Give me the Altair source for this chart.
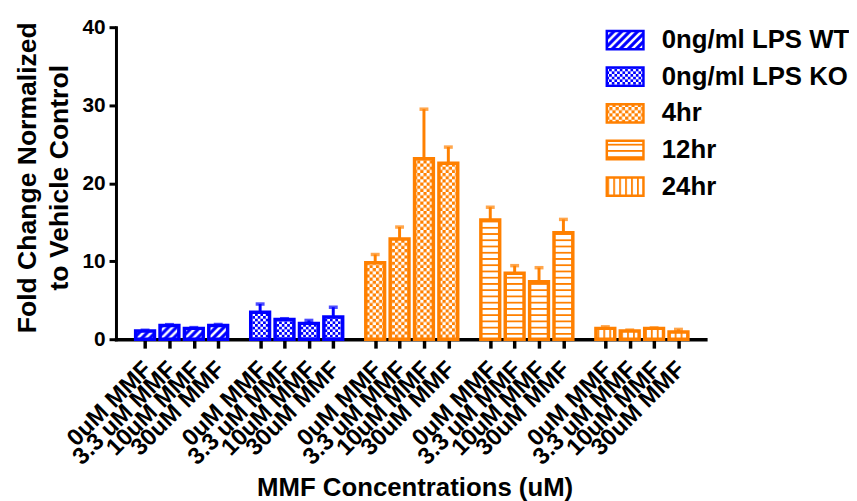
import jinja2
import pandas as pd
import altair as alt

# ---------------- data ----------------
groups = ["0ng/ml LPS WT", "0ng/ml LPS KO", "4hr", "12hr", "24hr"]
concentrations = ["0uM MMF", "3.3 uM MMF", "10uM MMF", "30uM MMF"]

wt_mean = [1.05, 1.77, 1.39, 1.77]
wt_err = [0.10, 0.10, 0.10, 0.12]
ko_mean = [3.46, 2.53, 2.03, 2.86]
ko_err = [1.05, 0.10, 0.38, 1.24]
h4_mean = [9.81, 12.86, 23.14, 22.55]
h4_err = [1.05, 1.52, 6.35, 2.08]
h12_mean = [15.27, 8.45, 7.36, 13.66]
h12_err = [1.65, 0.98, 1.81, 1.70]
h24_mean = [1.39, 1.05, 1.39, 0.92]
h24_err = [0.20, 0.12, 0.06, 0.34]

y_ticks = [0, 10, 20, 30, 40]

# ---------------- styles ----------------
BLUE = "#0000ff"
ORANGE = "#ff8000"
group_colors = [BLUE, BLUE, ORANGE, ORANGE, ORANGE]
pattern_ids = ["pWT", "pKO", "p4", "p12", "p24"]
FONT = "Liberation Sans"

SLOT = 100          # distance between bars inside a group
GROUP_STEP = 472    # distance between first bars of neighbouring groups

means = [wt_mean, ko_mean, h4_mean, h12_mean, h24_mean]
errs = [wt_err, ko_err, h4_err, h12_err, h24_err]

rows = []
for gi, g in enumerate(groups):
    for ci, c in enumerate(concentrations):
        m = means[gi][ci]
        e = errs[gi][ci]
        rows.append({"group": g, "conc": c, "mean": m, "err": e,
                     "top": m + e, "pos": gi * GROUP_STEP + ci * SLOT})
df = pd.DataFrame(rows)
positions = [int(p) for p in df["pos"]]

conc_js = "[" + ",".join("'" + c + "'" for c in concentrations) + "]"
label_expr = (f"{conc_js}[round((datum.value - floor(datum.value / {GROUP_STEP}) * {GROUP_STEP}) / {SLOT})]")

legend = alt.Legend(
    title=None, orient="none", legendX=494, legendY=-7,
    symbolType="M-1,-0.5H1V0.5H-1Z", symbolSize=1369, symbolStrokeWidth=2.5,
    labelFontSize=26, labelFont=FONT, labelFontWeight="bold", labelColor="black",
    labelOffset=17, rowPadding=2, labelLimit=400,
)

x_scale = alt.Scale(domain=[-99, 2278], nice=False, zero=False)
x_axis = alt.Axis(
    values=positions, labelExpr=label_expr, labelAngle=315,
    labelAlign="right", labelBaseline="top", labelOffset=-6, labelPadding=9,
    labelFontSize=24, labelOverlap=False, labelFlush=False, labelBound=False,
    tickSize=9, tickWidth=3.5, domainWidth=3.5, domainCap="square", grid=False,
    title="MMF Concentrations (uM)", titleFontSize=26,
    titleX=301.5, titleY=157.7, titleBaseline="alphabetic", titleAlign="center",
)
y_scale = alt.Scale(domain=[0, 40], nice=False)
y_axis = alt.Axis(
    values=y_ticks, labelFontSize=21, labelPadding=4,
    tickSize=7, tickWidth=3, domainWidth=3, domainCap="square", grid=False,
    title=["Fold Change Normalized", "to Vehicle Control"], titleFontSize=26.8,
    titleLineHeight=32.5, titleX=-102, titleY=151.5, titleAngle=270,
    titleAlign="center", titleBaseline="top",
)

base = alt.Chart(df)

bars = base.mark_bar(size=19, strokeWidth=3.5).encode(
    x=alt.X("pos:Q", scale=x_scale, axis=x_axis),
    y=alt.Y("mean:Q", scale=y_scale, axis=y_axis),
    fill=alt.Fill("group:N", scale=alt.Scale(domain=groups, range=[f"url(#{p})" for p in pattern_ids]), legend=legend),
    stroke=alt.Stroke("group:N", scale=alt.Scale(domain=groups, range=group_colors), legend=legend),
)

err_line = base.mark_rule(strokeWidth=3).encode(
    x=alt.X("pos:Q", scale=x_scale, axis=x_axis),
    y=alt.Y("mean:Q", scale=y_scale, axis=y_axis),
    y2="top:Q",
    color=alt.Color("group:N", scale=alt.Scale(domain=groups, range=group_colors), legend=None),
)

caps = base.mark_tick(orient="horizontal", size=9, thickness=3.5).encode(
    x=alt.X("pos:Q", scale=x_scale, axis=x_axis),
    y=alt.Y("top:Q", scale=y_scale, axis=y_axis),
    color=alt.Color("group:N", scale=alt.Scale(domain=groups, range=group_colors), legend=None),
)

chart = alt.layer(bars, err_line, caps).properties(
    width=595, height=315,
    autosize=alt.AutoSizeParams(type="none"),
    padding={"left": 109, "top": 17, "right": 145, "bottom": 165},
).configure(font=FONT).configure_view(stroke=None).configure_axis(
    labelFont=FONT, titleFont=FONT, labelFontWeight="bold", titleFontWeight="bold",
    labelColor="black", titleColor="black", domainColor="black", tickColor="black",
    labelOverlap=False,
)

# ---------------- fill patterns (SVG defs on the page) ----------------
defs = f"""
<svg width="0" height="0" style="position:absolute;left:0;top:0">
 <defs>
  <pattern id="pWT" patternUnits="userSpaceOnUse" width="8" height="8">
   <rect width="8" height="8" fill="{BLUE}"/>
   <path d="M-2,2 L2,-2 M0,8 L8,0 M6,10 L10,6" stroke="#ffffff" stroke-width="2.5"/>
  </pattern>
  <pattern id="pKO" patternUnits="userSpaceOnUse" width="5.4" height="5.4">
   <rect width="5.4" height="5.4" fill="{BLUE}"/>
   <rect width="2.7" height="2.7" fill="#ffffff"/>
   <rect x="2.7" y="2.7" width="2.7" height="2.7" fill="#ffffff"/>
  </pattern>
  <pattern id="p4" patternUnits="userSpaceOnUse" width="6.4" height="6.4">
   <rect width="6.4" height="6.4" fill="{ORANGE}"/>
   <rect width="3.2" height="3.2" fill="#ffffff"/>
   <rect x="3.2" y="3.2" width="3.2" height="3.2" fill="#ffffff"/>
  </pattern>
  <pattern id="p12" patternUnits="userSpaceOnUse" width="6" height="6.3">
   <rect width="6" height="6.3" fill="#ffffff"/>
   <rect width="6" height="1.8" fill="{ORANGE}"/>
  </pattern>
  <pattern id="p24" patternUnits="userSpaceOnUse" width="6" height="6">
   <rect width="6" height="6" fill="#ffffff"/>
   <rect width="1.8" height="6" fill="{ORANGE}"/>
  </pattern>
 </defs>
</svg>
"""

template_src = """<!DOCTYPE html>
<html>
<head>
<meta charset="utf-8">
<style>
  html, body { overflow: hidden; }
  body { margin: 8px; }
  #{{ output_div }}.vega-embed { width: 100%; display: flex; }
</style>
<script type="text/javascript" src="{{ base_url }}/vega@{{ vega_version }}"></script>
<script type="text/javascript" src="{{ base_url }}/vega-lite@{{ vegalite_version }}"></script>
<script type="text/javascript" src="{{ base_url }}/vega-embed@{{ vegaembed_version }}"></script>
</head>
<body>
""" + defs + """
<div id="{{ output_div }}"></div>
<script type="text/javascript">
  (function(vegaEmbed) {
    var spec = {{ spec }};
    var embedOpt = {{ embed_options }};
    const el = document.getElementById('{{ output_div }}');
    vegaEmbed("#{{ output_div }}", spec, embedOpt).catch(function(error) {
      el.innerHTML = '<div style="color:red;">' + error.message + '</div>';
      throw error;
    });
  })(vegaEmbed);
</script>
</body>
</html>
"""

chart.save("out.html", embed_options={"renderer": "svg", "actions": False},
           template=jinja2.Template(template_src))
